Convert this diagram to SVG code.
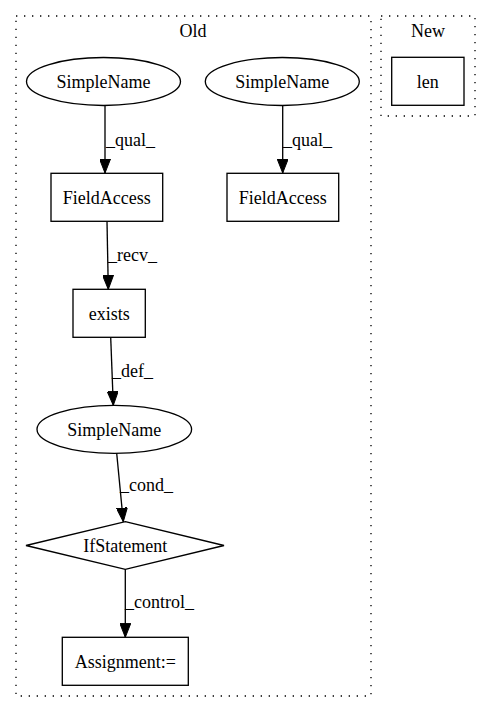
<svg xmlns="http://www.w3.org/2000/svg" width="491" height="712" viewBox="0 0 491 712">
<style>
text{font-family:"Liberation Serif","Times New Roman",serif;font-size:18px;fill:#000}
.n{text-anchor:middle}
.shape{fill:none;stroke:#000;stroke-width:1.33}
.cl{fill:none;stroke:#000;stroke-width:1.33;stroke-dasharray:1.33,6.67}
.e{fill:none;stroke:#000;stroke-width:1.33}
</style>
<defs>
<marker id="ah" markerWidth="14" markerHeight="11" refX="14" refY="5.5" orient="auto" markerUnits="userSpaceOnUse">
<path d="M0,0 L14,5.5 L0,11 Z" fill="#000" stroke="#000" stroke-width="1"/>
</marker>
</defs>
<rect width="491" height="712" fill="#fff"/>
<g id="cluster_old">
<rect class="cl" x="16" y="16" width="355" height="680"/>
<text class="n" x="193" y="37">Old</text>
</g>
<g id="cluster_new">
<rect class="cl" x="381" y="16" width="94" height="100"/>
<text class="n" x="428" y="37">New</text>
</g>
<g id="edges">
<path class="e" d="M105,106 L105,173" marker-end="url(#ah)"/>
<text x="106" y="146">_qual_</text>
<path class="e" d="M282.7,106 L282.7,173" marker-end="url(#ah)"/>
<text x="283" y="146">_qual_</text>
<path class="e" d="M107,221.3 L108.3,289.3" marker-end="url(#ah)"/>
<text x="108" y="261">_recv_</text>
<path class="e" d="M110.7,337.3 L113.3,405.3" marker-end="url(#ah)"/>
<text x="112" y="377">_def_</text>
<path class="e" d="M116.7,453.3 L123.3,521.7" marker-end="url(#ah)"/>
<text x="120" y="491">_cond_</text>
<path class="e" d="M125.3,569.3 L125.3,637.3" marker-end="url(#ah)"/>
<text x="125" y="608">_control_</text>
</g>
<g id="simplename1">
<ellipse class="shape" cx="103.5" cy="81.5" rx="77" ry="24"/>
<text class="n" x="103.5" y="88">SimpleName</text>
</g>
<g id="simplename2">
<ellipse class="shape" cx="282.3" cy="81.5" rx="77" ry="24"/>
<text class="n" x="282.3" y="88">SimpleName</text>
</g>
<g id="fieldaccess1">
<rect class="shape" x="51" y="173.3" width="111.7" height="48"/>
<text class="n" x="106.8" y="203.5">FieldAccess</text>
</g>
<g id="fieldaccess2">
<rect class="shape" x="227" y="173.3" width="111.7" height="48"/>
<text class="n" x="282.8" y="203.5">FieldAccess</text>
</g>
<g id="exists">
<rect class="shape" x="73" y="289.3" width="72.3" height="48"/>
<text class="n" x="109.2" y="319.5">exists</text>
</g>
<g id="simplename3">
<ellipse class="shape" cx="114.3" cy="429.3" rx="77.3" ry="24"/>
<text class="n" x="114.3" y="435.8">SimpleName</text>
</g>
<g id="ifstatement">
<polygon class="shape" points="125.3,521.7 224,545.5 125.3,569.3 26,545.5"/>
<text class="n" x="125.3" y="552">IfStatement</text>
</g>
<g id="assignment">
<rect class="shape" x="62.3" y="637.3" width="126" height="48"/>
<text class="n" x="125.3" y="667.5">Assignment:=</text>
</g>
<g id="len">
<rect class="shape" x="391.7" y="57.3" width="72.3" height="48"/>
<text class="n" x="427.8" y="87.5">len</text>
</g>
</svg>
